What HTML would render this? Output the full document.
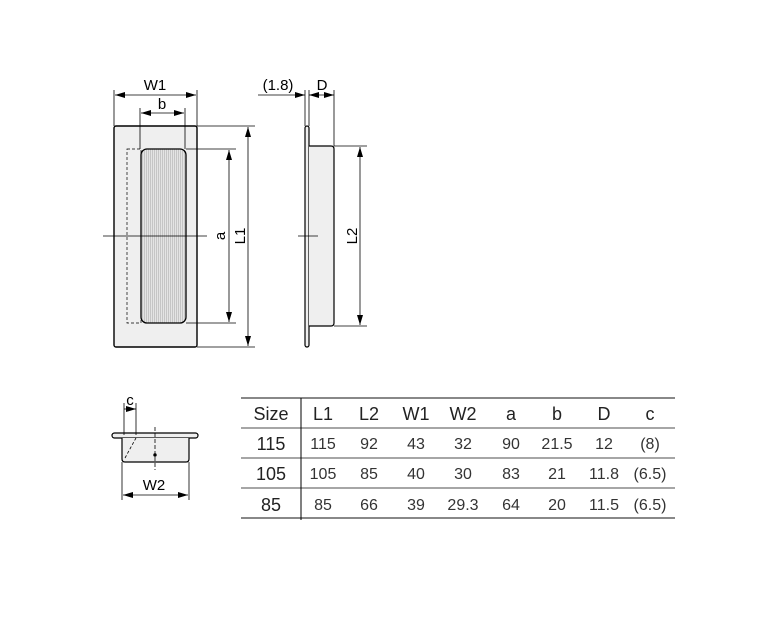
<!DOCTYPE html>
<html><head><style>
body{margin:0;background:#fff;}
svg text{font-family:"Liberation Sans",sans-serif;}
</style></head><body>
<svg width="780" height="626" viewBox="0 0 780 626" xmlns="http://www.w3.org/2000/svg">
<defs>
<marker id="ar" viewBox="0 0 10 6" refX="10" refY="3" markerWidth="10" markerHeight="6" orient="auto-start-reverse" markerUnits="userSpaceOnUse"><path d="M0,0L10,3L0,6z" fill="#000"/></marker>
<pattern id="stripes" width="2" height="10" patternUnits="userSpaceOnUse"><rect width="2" height="10" fill="#e4e4e4"/><rect width="0.7" height="10" fill="#b8b8b8"/></pattern>
</defs>
<g stroke="#000" fill="none" stroke-width="0.8">
<rect x="114" y="126" width="83" height="221" rx="2" fill="#efefef" stroke-width="1.4"/>
<rect x="127" y="149" width="14" height="174" stroke-dasharray="3,2" stroke-width="0.7"/>
<rect x="141" y="149" width="45" height="174" rx="6" fill="url(#stripes)" stroke-width="1.3"/>
<line x1="103" y1="236" x2="207" y2="236"/>
<line x1="114" y1="90" x2="114" y2="126"/><line x1="197" y1="90" x2="197" y2="126"/>
<line x1="115" y1="95" x2="196" y2="95" marker-start="url(#ar)" marker-end="url(#ar)"/>
<line x1="140" y1="108" x2="140" y2="149"/><line x1="185" y1="108" x2="185" y2="149"/>
<line x1="141" y1="113" x2="184" y2="113" marker-start="url(#ar)" marker-end="url(#ar)"/>
<line x1="186" y1="149" x2="236" y2="149"/><line x1="186" y1="323" x2="236" y2="323"/>
<line x1="229" y1="150" x2="229" y2="322" marker-start="url(#ar)" marker-end="url(#ar)"/>
<line x1="197" y1="126" x2="255" y2="126"/><line x1="197" y1="347" x2="255" y2="347"/>
<line x1="248" y1="127" x2="248" y2="346" marker-start="url(#ar)" marker-end="url(#ar)"/>
<rect x="305" y="126" width="4" height="221" rx="2" fill="#efefef" stroke-width="1.2"/>
<path d="M309,146 H331 Q334,146 334,149 V323 Q334,326 331,326 H309" fill="#efefef" stroke-width="1.2"/>
<line x1="298" y1="236" x2="318" y2="236"/>
<line x1="305" y1="90" x2="305" y2="126"/><line x1="309" y1="90" x2="309" y2="126"/><line x1="334" y1="90" x2="334" y2="146"/>
<line x1="258" y1="95" x2="305" y2="95" marker-end="url(#ar)"/>
<line x1="309" y1="95" x2="334" y2="95" marker-start="url(#ar)" marker-end="url(#ar)"/>
<line x1="334" y1="146" x2="367" y2="146"/><line x1="334" y1="326" x2="367" y2="326"/>
<line x1="360" y1="147" x2="360" y2="325" marker-start="url(#ar)" marker-end="url(#ar)"/>
<rect x="112" y="433" width="86" height="5" rx="2.5" fill="#efefef" stroke-width="1.2"/>
<path d="M122,438 V459 Q122,462 125,462 H186 Q189,462 189,459 V438" fill="#efefef" stroke-width="1.2"/>
<path d="M122,438 V459 Q122,462 125,462 H186 Q189,462 189,459 V438" stroke="#000" stroke-dasharray="2,1.5" stroke-width="0.9"/>
<line x1="125" y1="458" x2="136" y2="438" stroke-dasharray="3,2"/>
<line x1="155" y1="427" x2="155" y2="470" stroke-dasharray="4,2"/>
<circle cx="155" cy="455" r="1.3" fill="#000"/>
<line x1="124" y1="403" x2="124" y2="435"/><line x1="136" y1="403" x2="136" y2="435"/>
<line x1="124" y1="409" x2="136" y2="409" marker-end="url(#ar)"/>
<line x1="122" y1="462" x2="122" y2="500"/><line x1="189" y1="462" x2="189" y2="500"/>
<line x1="123" y1="495" x2="188" y2="495" marker-start="url(#ar)" marker-end="url(#ar)"/>
<line x1="241" y1="398" x2="675" y2="398" stroke="#888" stroke-width="2"/>
<line x1="241" y1="428" x2="675" y2="428" stroke="#888" stroke-width="1.5"/>
<line x1="241" y1="458" x2="675" y2="458" stroke="#888" stroke-width="1.5"/>
<line x1="241" y1="488" x2="675" y2="488" stroke="#888" stroke-width="1.5"/>
<line x1="241" y1="518" x2="675" y2="518" stroke="#888" stroke-width="2"/>
<line x1="301" y1="398" x2="301" y2="520" stroke-width="1"/>
</g>
<g font-size="15" fill="#000">
<text x="155" y="90" text-anchor="middle">W1</text>
<text x="162" y="109" text-anchor="middle">b</text>
<text x="278" y="90" text-anchor="middle">(1.8)</text>
<text x="322" y="90" text-anchor="middle">D</text>
<text transform="translate(225,236) rotate(-90)" text-anchor="middle">a</text>
<text transform="translate(245,236) rotate(-90)" text-anchor="middle">L1</text>
<text transform="translate(357,236) rotate(-90)" text-anchor="middle">L2</text>
<text x="130" y="405" text-anchor="middle">c</text>
<text x="154" y="490" text-anchor="middle">W2</text>
</g>
<g font-size="18" fill="#222" text-anchor="middle">
<text x="271" y="420">Size</text><text x="323" y="420">L1</text><text x="369" y="420">L2</text><text x="416" y="420">W1</text><text x="463" y="420">W2</text><text x="511" y="420">a</text><text x="557" y="420">b</text><text x="604" y="420">D</text><text x="650" y="420">c</text>
<text x="271" y="450">115</text>
<text x="271" y="480">105</text>
<text x="271" y="511">85</text>
</g>
<g font-size="16" fill="#333" text-anchor="middle">
<text x="323" y="449">115</text><text x="369" y="449">92</text><text x="416" y="449">43</text><text x="463" y="449">32</text><text x="511" y="449">90</text><text x="557" y="449">21.5</text><text x="604" y="449">12</text><text x="650" y="449">(8)</text>
<text x="323" y="479">105</text><text x="369" y="479">85</text><text x="416" y="479">40</text><text x="463" y="479">30</text><text x="511" y="479">83</text><text x="557" y="479">21</text><text x="604" y="479">11.8</text><text x="650" y="479">(6.5)</text>
<text x="323" y="510">85</text><text x="369" y="510">66</text><text x="416" y="510">39</text><text x="463" y="510">29.3</text><text x="511" y="510">64</text><text x="557" y="510">20</text><text x="604" y="510">11.5</text><text x="650" y="510">(6.5)</text>
</g>
</svg>
</body></html>
